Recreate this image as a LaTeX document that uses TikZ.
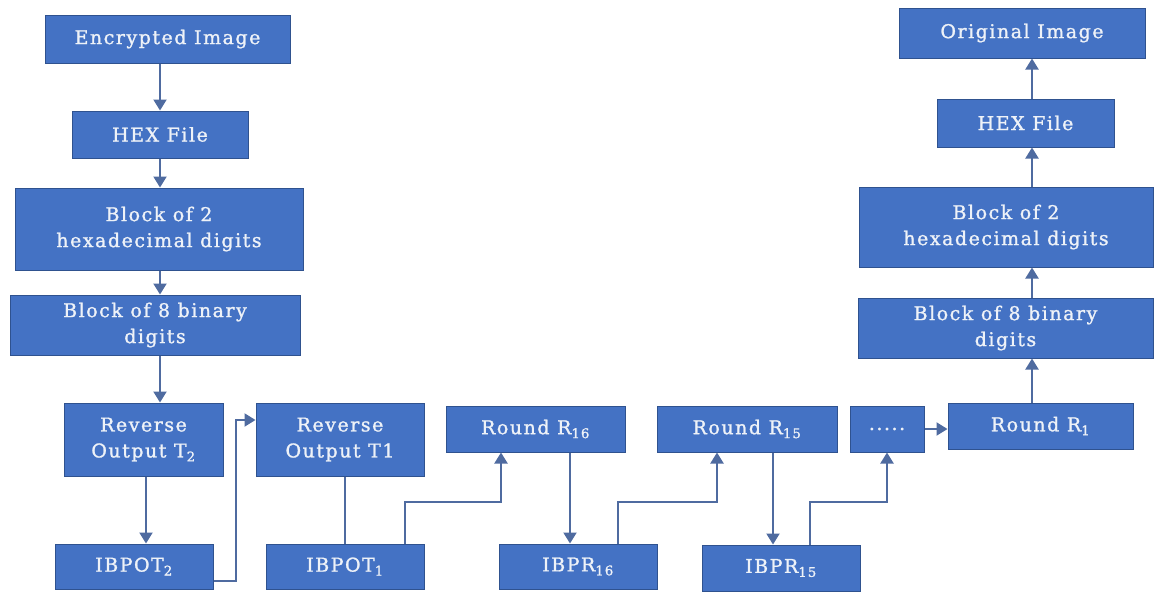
\documentclass[tikz,border=0pt]{standalone}
\usepackage{fontspec}
\usetikzlibrary{arrows.meta,calc}
\newfontfamily\boxfont[LetterSpace=8,FakeBold=1.2]{DejaVu Serif}
\definecolor{boxfill}{HTML}{4472C4}
\definecolor{boxline}{HTML}{2F528F}
\definecolor{linecol}{HTML}{4F6BA0}
\definecolor{txtcol}{HTML}{EEF2F8}
\tikzset{
  blk/.style={draw=boxline, fill=boxfill, line width=1pt, text=txtcol, inner sep=0pt,
    align=center, font=\boxfont\fontsize{19}{26}\selectfont, anchor=center},
  arr/.style={draw=linecol, line width=2pt, -{Triangle[width=13pt,length=11pt]}},
  ln/.style={draw=linecol, line width=2pt},
}
\begin{document}
\begin{tikzpicture}[x=1pt,y=-1pt]
\useasboundingbox[fill=white] (0,0) rectangle (1155,592);
% left column
\node[blk, minimum width=245pt, minimum height=48pt] (enc) at (167.5,39) {Encrypted Image};
\node[blk, minimum width=176pt, minimum height=47pt] (hexL) at (160,134.5) {HEX File};
\node[blk, minimum width=288pt, minimum height=82pt] (blk2L) at (159,229) {Block of 2\\hexadecimal digits};
\node[blk, minimum width=290pt, minimum height=60pt] (blk8L) at (155,325) {Block of 8 binary\\digits};
% bottom rows
\node[blk, minimum width=159pt, minimum height=73pt] (revT2) at (143.5,439.5) {Reverse\\Output T\textsubscript{2}};
\node[blk, minimum width=158pt, minimum height=45pt] (ibpot2) at (134,566.5) {IBPOT\textsubscript{2}};
\node[blk, minimum width=168pt, minimum height=73pt] (revT1) at (340,439.5) {Reverse\\Output T1};
\node[blk, minimum width=158pt, minimum height=45pt] (ibpot1) at (345,566.5) {IBPOT\textsubscript{1}};
\node[blk, minimum width=179pt, minimum height=46pt] (r16) at (535.5,429) {Round R\textsubscript{16}};
\node[blk, minimum width=158pt, minimum height=45pt] (ibpr16) at (578,566.5) {IBPR\textsubscript{16}};
\node[blk, minimum width=180pt, minimum height=46pt] (r15) at (747,429) {Round R\textsubscript{15}};
\node[blk, minimum width=158pt, minimum height=46pt] (ibpr15) at (781,568) {IBPR\textsubscript{15}};
\node[blk, minimum width=74pt, minimum height=46pt] (dots) at (887,429) {.....};
\node[blk, minimum width=185pt, minimum height=46pt] (r1) at (1040.5,426) {Round R\textsubscript{1}};
% right column
\node[blk, minimum width=295pt, minimum height=60pt] (blk8R) at (1005.5,328) {Block of 8 binary\\digits};
\node[blk, minimum width=294pt, minimum height=80pt] (blk2R) at (1006,227) {Block of 2\\hexadecimal digits};
\node[blk, minimum width=177pt, minimum height=48pt] (hexR) at (1025.5,123) {HEX File};
\node[blk, minimum width=246pt, minimum height=50pt] (orig) at (1022,33) {Original Image};
\coordinate (axL) at (160,0);
\coordinate (axR) at (1032,0);
% left column arrows
\draw[arr] (axL |- enc.south) -- (axL |- hexL.north);
\draw[arr] (axL |- hexL.south) -- (axL |- blk2L.north);
\draw[arr] (axL |- blk2L.south) -- (axL |- blk8L.north);
\draw[arr] (axL |- blk8L.south) -- (axL |- revT2.north);
\draw[arr] ([xshift=2.5pt]revT2.south) -- ([xshift=2.5pt]revT2.south |- ibpot2.north);
\draw[arr] ([yshift=-14.5pt]ibpot2.east) -- ++(22,0) |- ([yshift=19.5pt]revT1.west);
\draw[ln] (ibpot1.north |- revT1.south) -- (ibpot1.north);
\draw[arr] ([xshift=60pt]ibpot1.north) -- ++(0,-42) -| ([xshift=-34.5pt]r16.south);
\draw[arr] ([xshift=34.5pt]r16.south) -- ([xshift=34.5pt]r16.south |- ibpr16.north);
\draw[arr] ([xshift=40pt]ibpr16.north) -- ++(0,-42) -| ([xshift=-30pt]r15.south);
\draw[arr] ([xshift=26pt]r15.south) -- ([xshift=26pt]r15.south |- ibpr15.north);
\draw[arr] ([xshift=29pt]ibpr15.north) -- ++(0,-43) -| (dots.south);
\draw[arr] (dots.east) -- (dots.east -| r1.west);
% right column arrows
\draw[arr] (axR |- r1.north) -- (axR |- blk8R.south);
\draw[arr] (axR |- blk8R.north) -- (axR |- blk2R.south);
\draw[arr] (axR |- blk2R.north) -- (axR |- hexR.south);
\draw[arr] (axR |- hexR.north) -- (axR |- orig.south);
\end{tikzpicture}
\end{document}
